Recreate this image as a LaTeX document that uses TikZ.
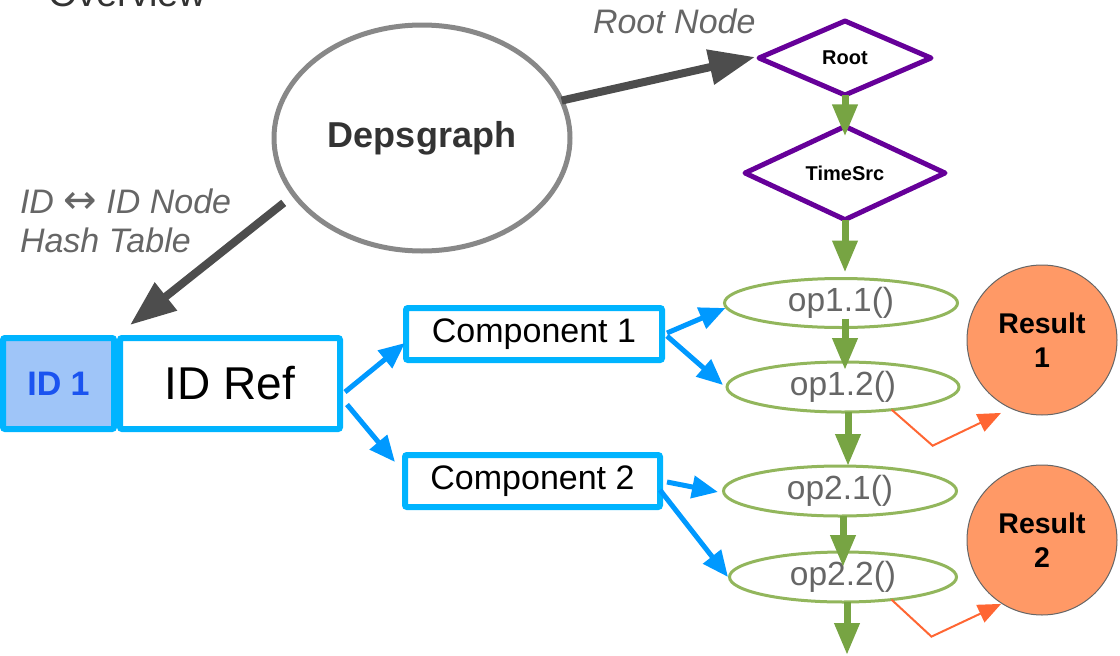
\documentclass[tikz,border=0pt]{standalone}
\usepackage{fontspec}
\setmainfont{Liberation Sans}
\newfontfamily\arrowfont{DejaVu Sans}
\usetikzlibrary{shapes.geometric,arrows.meta,calc}
\definecolor{depgray}{HTML}{888888}
\definecolor{darkarr}{HTML}{4D4D4D}
\definecolor{deptext}{HTML}{333333}
\definecolor{purp}{HTML}{660099}
\definecolor{garr}{HTML}{77A443}
\definecolor{opgreen}{HTML}{92B65C}
\definecolor{opgray}{HTML}{666666}
\definecolor{cyanb}{HTML}{00B4FF}
\definecolor{barr}{HTML}{0099FF}
\definecolor{idfill}{HTML}{9FC5F8}
\definecolor{idtext}{HTML}{1A53F0}
\definecolor{resfill}{HTML}{FF9966}
\definecolor{oarr}{HTML}{FF6633}
\definecolor{lblgray}{HTML}{666666}
\begin{document}
\begin{tikzpicture}[x=1pt,y=-1pt,
  every node/.style={inner sep=0pt, outer sep=0pt},
  depnode/.style={ellipse, draw=depgray, line width=5pt, text=deptext,
    font=\bfseries\fontsize{36pt}{43pt}\selectfont},
  diam/.style={diamond, draw=purp, line width=5pt, line join=round, fill=white,
    font=\bfseries\fontsize{20pt}{24pt}\selectfont},
  opnode/.style={ellipse, draw=opgreen, line width=3pt, text=opgray,
    font=\fontsize{33.5pt}{40pt}\selectfont},
  boxnode/.style={rectangle, draw=cyanb, line width=6pt, fill=white, rounded corners=2pt},
  resnode/.style={circle, draw=opgray, line width=1pt, fill=resfill, minimum size=150pt,
    align=center, font=\bfseries\fontsize{28.5pt}{34.5pt}\selectfont},
  lbl/.style={anchor=base west, text=lblgray, font=\itshape\fontsize{34pt}{40pt}\selectfont},
  darrow/.style={draw=darkarr, line width=8pt, -{Triangle[length=46pt,width=34pt]}},
  garrow/.style={draw=garr, line width=7pt, -{Triangle[length=32pt,width=24pt]}},
  barrow/.style={draw=barr, line width=5pt, -{Triangle[length=26pt,width=22pt]}},
  oarrow/.style={draw=oarr, line width=2pt, line join=miter, -{Triangle[length=23pt,width=19pt]}}
]
\useasboundingbox (0,0) rectangle (1120,656);

% title (cut off at top, as in the reference)
\node[anchor=base west, text=deptext, font=\fontsize{38pt}{46pt}\selectfont] (ov) at (48,6) {Overview};

% main nodes
\node[depnode, minimum width=296pt, minimum height=226pt] (dep) at (422,138) {Depsgraph};
\node[diam, minimum width=172pt, minimum height=74pt] (root) at (845,58) {Root};
\node[diam, minimum width=200pt, minimum height=72pt] (timesrc) at (845,173) {TimeSrc};

\node[opnode, minimum width=233pt, minimum height=49pt] (op11) at (841,303) {op1.1()};
\node[opnode, minimum width=232pt, minimum height=50pt] (op12) at (843,387) {op1.2()};
\node[opnode, minimum width=233pt, minimum height=50pt] (op21) at (840,491) {op2.1()};
\node[opnode, minimum width=227pt, minimum height=50pt] (op22) at (843,577) {op2.2()};

\node[resnode] (res1) at (1042,340) {Result\\1};
\node[resnode] (res2) at (1042,540) {Result\\2};

\node[boxnode, fill=idfill, text=idtext, minimum width=111pt, minimum height=91pt,
  font=\bfseries\fontsize{34pt}{40pt}\selectfont] (id1) at (58.5,383.5) {ID 1};
\node[boxnode, minimum width=220pt, minimum height=91pt,
  font=\fontsize{46pt}{55pt}\selectfont] (idref) at (230,383.5) {ID Ref};
\node[boxnode, minimum width=256pt, minimum height=52pt,
  font=\fontsize{34pt}{40pt}\selectfont] (comp1) at (534,334) {Component 1};
\node[boxnode, minimum width=255pt, minimum height=52pt,
  font=\fontsize{34pt}{40pt}\selectfont] (comp2) at (532.5,481) {Component 2};

% labels
\node[lbl] (rootlbl) at (593,33) {Root Node};
\node[lbl] (hash1) at (20,213) {ID {\arrowfont\fontsize{40pt}{40pt}\selectfont ↔} ID Node};
\node[lbl] (hash2) at (20,252) {Hash Table};

% dark arrows
\draw[darrow] (dep.15) -- ($(root.west)+(-4,-1)$);
\draw[darrow] ($(dep.205)+(-12,6)$) -- ($(idref.north west)+(10,-13)$);

% green chain
\coordinate (out) at (847,655);
\draw[garrow] (root.south) -- ($(timesrc.north)+(0,10)$);
\draw[garrow] (timesrc.south) -- ($(op11.north)+(4,-6)$);
\draw[garrow] ($(op11.south)+(4,-9)$) -- ($(op12.north)+(2,8)$);
\draw[garrow] ($(op12.south)+(5,0)$) -- ($(op21.north)+(8,0)$);
\draw[garrow] ($(op21.south)+(3,0)$) -- ($(op22.north)+(0,15)$);
\draw[garrow] ($(op22.south)+(4,0)$) -- (out);

% blue arrows
\draw[barrow] ($(idref.east)+(5,8.5)$) -- ($(comp1.west)+(-1,9)$);
\draw[barrow] ($(idref.east)+(7,21)$) -- ($(comp2.west)+(-10,-19)$);
\draw[barrow] ($(comp1.east)+(5,-1)$) -- ($(op11.west)+(1,5)$);
\draw[barrow] ($(comp1.east)+(5,2)$) -- ($(op12.west)+(-4,-2)$);
\draw[barrow] ($(comp2.east)+(7,1)$) -- ($(op21.west)+(-5.5,1)$);
\draw[barrow] ($(comp2.east)+(0,9)$) -- ($(op22.west)+(-1.5,0)$);

% orange arrows
\draw[oarrow] (op12.-25) -- ++(41,36) -- ($(res1.240)+(-3.5,8)$);
\draw[oarrow] (op22.-25) -- ++(40,37) -- ($(res2.237)+(0,1)$);
\end{tikzpicture}
\end{document}
